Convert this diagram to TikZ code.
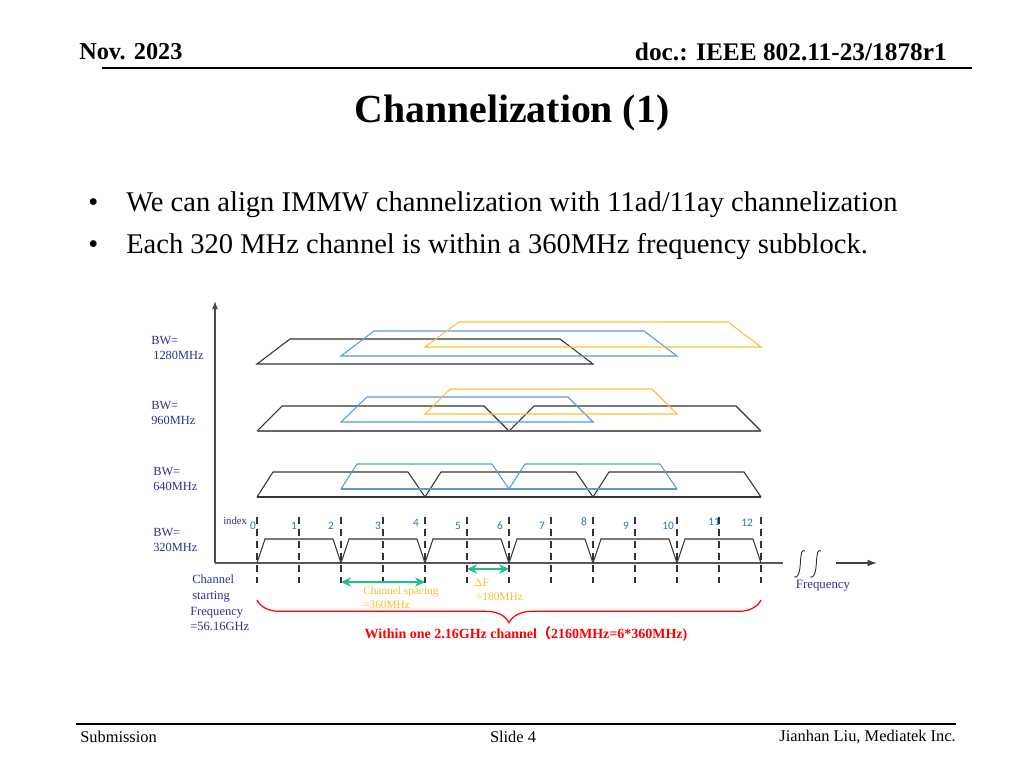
\documentclass[tikz,border=0pt]{standalone}
\usepackage{fontspec}
\setmainfont{Liberation Serif}
\newfontfamily\carlito{Carlito}
\newfontfamily\cjkfont{Noto Sans CJK SC}
\usetikzlibrary{arrows.meta,decorations.pathreplacing}
\definecolor{navy}{HTML}{2E3192}
\definecolor{idxblue}{HTML}{2E75B6}
\definecolor{trapblue}{HTML}{5B9BD5}
\definecolor{trapyel}{HTML}{F5C33B}
\definecolor{grn}{HTML}{1FBF8A}
\definecolor{yeltext}{HTML}{F2C12E}
\begin{document}
\begin{tikzpicture}[x=0.75pt,y=-0.75pt,
  txt/.style={inner sep=0pt},
  bwlabel/.style={inner sep=0pt,align=left,font=\fontsize{9.3}{11.5}\selectfont,text=navy,anchor=west},
  idx/.style={inner sep=0pt,font=\carlito\fontsize{8.5}{9}\selectfont,text=idxblue},
  blk/.style={draw=black!80,line width=0.8pt},
  blu/.style={draw=trapblue,line width=0.8pt},
  yel/.style={draw=trapyel,line width=0.8pt},
  dashline/.style={draw=black!80,line width=1.1pt,dash pattern=on 5.5pt off 3.5pt},
  grnarrow/.style={draw=grn,line width=1.5pt,{Stealth[length=7.5pt,width=7pt]}-{Stealth[length=7.5pt,width=7pt]}},
  axis/.style={draw=black!65,line width=0.9pt}]
\useasboundingbox (0,0) rectangle (1024,768);

% header / footer
\node[txt,anchor=west,font=\fontsize{18.2}{20}\selectfont\bfseries] (date) at (79,52) {Nov. 2023};
\node[txt,anchor=east,font=\fontsize{19}{20}\selectfont\bfseries] (doc) at (947,52) {doc.: IEEE 802.11-23/1878r1};
\coordinate (hl) at (102,68); \coordinate (hr) at (972,68);
\draw[line width=1pt] (hl) -- (hr);
\node[txt,font=\fontsize{29.8}{32}\selectfont\bfseries] (title) at (512,113) {Channelization (1)};
\node[txt,anchor=west,font=\fontsize{21.4}{24}\selectfont] (b1) at (88,205) {•};
\node[txt,anchor=west,font=\fontsize{21.4}{24}\selectfont] (t1) at (126,205) {We can align IMMW channelization with 11ad/11ay channelization};
\node[txt,anchor=west,font=\fontsize{21.4}{24}\selectfont] (b2) at (88,247) {•};
\node[txt,anchor=west,font=\fontsize{21.4}{24}\selectfont] (t2) at (126,247) {Each 320 MHz channel is within a 360MHz frequency subblock.};
\coordinate (fl) at (76,724); \coordinate (fr) at (956,724);
\draw[line width=1pt] (fl) -- (fr);
\node[txt,anchor=west,font=\fontsize{12.3}{14}\selectfont] (sub) at (80,737) {Submission};
\node[txt,font=\fontsize{12.3}{14}\selectfont] (slide) at (513,737) {Slide 4};
\node[txt,anchor=east,font=\fontsize{12.3}{14}\selectfont] (auth) at (956,737) {Jianhan Liu, Mediatek Inc.};

% axes
\coordinate (org) at (215,563);
\coordinate (ytop) at (215,301);
\coordinate (xend) at (783,563);
\draw[axis,-{Latex[length=6pt,width=4.5pt]},draw=black!70] (org) -- (ytop);
\draw[axis] (org) -- (xend);
\coordinate (as) at (836,563); \coordinate (ae) at (877,563);
\draw[axis,-{Latex[length=7pt,width=5pt]},draw=black!75,line width=1pt] (as) -- (ae);
% break marks
\draw[black!80,line width=0.7pt] (805,551) .. controls (802,549) and (801,553) .. (800.5,561) .. controls (800,572) and (798,579) .. (794,577);
\draw[black!80,line width=0.7pt] (821,551) .. controls (818,549) and (817,553) .. (816.5,561) .. controls (816,572) and (814,579) .. (810,577);
\node[txt,font=\fontsize{9.6}{11}\selectfont,text=navy] (freq) at (823,586) {Frequency};

% dashed index lines and labels
\foreach \i in {0,...,12} {
  \coordinate (dt\i) at ({257+42*\i},517);
  \coordinate (db\i) at ({257+42*\i},583);
  \draw[dashline] (dt\i) -- (db\i);
}
\node[idx] (l0) at (253,526) {0};
\node[idx] (l1) at (294,526) {1};
\node[idx] (l2) at (331,526) {2};
\node[idx] (l3) at (378,526) {3};
\node[idx] (l4) at (416,523) {4};
\node[idx] (l5) at (458,526) {5};
\node[idx] (l6) at (500,526) {6};
\node[idx] (l7) at (542,526) {7};
\node[idx] (l8) at (584,522) {8};
\node[idx] (l9) at (626,526) {9};
\node[idx] (l10) at (668,526) {10};
\node[idx] (l11) at (714,522) {11};
\node[idx] (l12) at (747,523) {12};
\node[txt,anchor=west,font=\fontsize{8}{9}\selectfont,text=navy] (lidx) at (223,521) {index};

% 320 MHz trapezoids
\foreach \k in {0,...,5} {
  \draw[blk] ({257+84*\k},563) -- ({265+84*\k},539) -- ({333+84*\k},539) -- ({341+84*\k},563);
}
% 640 MHz
\foreach \k in {0,1,2} {
  \draw[blk] ({257+168*\k},497) -- ({273+168*\k},472) -- ({408+168*\k},472) -- ({425+168*\k},497);
}
\draw[blk] (257,497) -- (761,497);
\foreach \k in {0,1} {
  \draw[blu] ({341+168*\k},489) -- ({357+168*\k},464) -- ({492+168*\k},464) -- ({509+168*\k},489);
}
\draw[blu] (341,489) -- (677,489);
% 960 MHz
\foreach \k in {0,1} {
  \draw[blk] ({257+252*\k},431) -- ({282+252*\k},406) -- ({484+252*\k},406) -- ({509+252*\k},431);
}
\draw[blk,draw=black!60,line width=1.2pt] (257,431) -- (761,431);
\draw[blu] (341,422) -- (367,397) -- (568,397) -- (593,422) -- cycle;
\draw[yel] (425,414) -- (450,389) -- (652,389) -- (677,414) -- cycle;
% 1280 MHz
\draw[blk] (257,364) -- (290,339) -- (560,339) -- (593,364) -- cycle;
\draw[blu] (341,356) -- (374,331) -- (644,331) -- (677,356) -- cycle;
\draw[yel] (425,347) -- (459,322) -- (728,322) -- (761,347) -- cycle;

% BW labels
\node[bwlabel] (bw1280) at (151,348) {BW=\\\,1280MHz};
\node[bwlabel] (bw960) at (151,413) {BW=\\960MHz};
\node[bwlabel] (bw640) at (153,479) {BW=\\640MHz};
\node[bwlabel] (bw320) at (153,540) {BW=\\320MHz};

% channel starting
\node[bwlabel,font=\fontsize{9.4}{11.7}\selectfont] (chs) at (190,603) {\,Channel\\\,starting\\Frequency\\=56.16GHz};

% green arrows
\draw[grnarrow] (db2 |- 0,582) -- (db4 |- 0,582);
\node[txt,anchor=west,align=left,font=\fontsize{8.5}{10.5}\selectfont,text=yeltext] (csp) at (363,598) {Channel spacing\\=360MHz};
\draw[grnarrow] (db5 |- 0,569) -- (db6 |- 0,569);
\node[txt,anchor=west,align=left,font=\fontsize{8.5}{10.5}\selectfont,text=yeltext] (df) at (473,590) {$\Delta$F\\\ =180MHz};

% red brace
\coordinate (bl) at (257,600); \coordinate (br) at (761,600);
\draw[red,line width=0.9pt,decorate,decoration={brace,mirror,amplitude=17pt,aspect=0.5}] (bl) -- (br);
\node[txt,font=\fontsize{10.5}{12}\selectfont\bfseries,text=red] (within) at (526,634) {Within one 2.16GHz channel{\cjkfont （}2160MHz=6*360MHz)};
\end{tikzpicture}
\end{document}
